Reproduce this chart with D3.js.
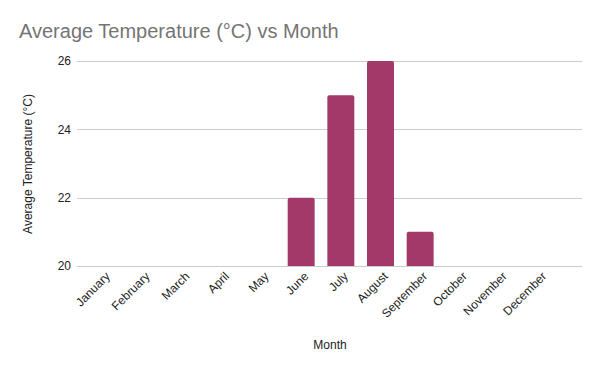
<!DOCTYPE html>
<html>
<head>
<meta charset="utf-8">
<script src="https://cdn.jsdelivr.net/npm/d3@7"></script>
<style>
  body { margin: 0; background: #fff; }
  svg { display: block; font-family: "Liberation Sans", Arial, sans-serif; }
</style>
</head>
<body>
<div id="chart"></div>
<script>
// Months along the x axis
const months = ["January", "February", "March", "April", "May", "June",
  "July", "August", "September", "October", "November", "December"];
// Average temperature; months without a visible bar are left null
const temps = [null, null, null, null, null, 22, 25, 26, 21, null, null, null];
const yTicks = [20, 22, 24, 26];

const width = 600, height = 371;
const svg = d3.select("#chart").append("svg")
    .attr("width", width)
    .attr("height", height);

// title
svg.append("text")
    .attr("x", 19)
    .attr("y", 38)
    .attr("fill", "#757575")
    .attr("font-size", 20)
    .text("Average Temperature (°C) vs Month");

const x = d3.scaleBand()
    .domain(months)
    .range([83, 559])
    .paddingInner(0.32)
    .paddingOuter(0.16);

const y = d3.scaleLinear()
    .domain([20, 26])
    .range([266, 61]);

// grid lines
svg.append("g")
    .selectAll("line")
    .data(yTicks)
    .join("line")
      .attr("x1", 77)
      .attr("x2", 582)
      .attr("y1", d => Math.round(y(d)) + 0.5)
      .attr("y2", d => Math.round(y(d)) + 0.5)
      .attr("stroke", "#cccccc")
      .attr("stroke-width", 1);

// y tick labels
svg.append("g")
    .selectAll("text")
    .data(yTicks)
    .join("text")
      .attr("x", 71)
      .attr("y", d => y(d))
      .attr("dy", "0.35em")
      .attr("text-anchor", "end")
      .attr("font-size", 12)
      .attr("fill", "#222")
      .text(d => d);

// bars, with slightly rounded tops
const barData = months.map((m, i) => ({ month: m, value: temps[i] }))
    .filter(d => d.value != null && d.value > 20);
const r = 2;
svg.append("g")
    .attr("fill", "#a23968")
  .selectAll("path")
  .data(barData)
  .join("path")
    .attr("d", d => {
      const x0 = x(d.month), x1 = x0 + x.bandwidth();
      const yt = y(d.value), yb = y(20);
      return `M${x0},${yb}V${yt + r}Q${x0},${yt} ${x0 + r},${yt}H${x1 - r}Q${x1},${yt} ${x1},${yt + r}V${yb}Z`;
    });

// x tick labels, rotated
svg.append("g")
    .selectAll("text")
    .data(months)
    .join("text")
      .attr("transform", d => `translate(${x(d) + x.bandwidth() / 2 + 8},${277}) rotate(-45)`)
      .attr("text-anchor", "end")
      .attr("font-size", 12)
      .attr("fill", "#222")
      .text(d => d);

// axis titles
svg.append("text")
    .attr("x", 330)
    .attr("y", 349)
    .attr("text-anchor", "middle")
    .attr("font-size", 12)
    .attr("fill", "#222")
    .text("Month");

svg.append("text")
    .attr("transform", `translate(32,${164}) rotate(-90)`)
    .attr("text-anchor", "middle")
    .attr("font-size", 12)
    .attr("fill", "#222")
    .text("Average Temperature (°C)");
</script>
</body>
</html>
